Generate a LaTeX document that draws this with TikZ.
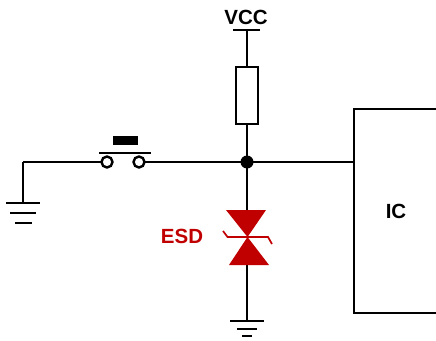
\documentclass[tikz,border=0pt]{standalone}
\usepackage{fontspec}
\setmainfont{Liberation Sans}
\usepackage{xcolor}
\definecolor{esdred}{HTML}{C00000}
\usetikzlibrary{calc,shapes.geometric}
\begin{document}
\begin{tikzpicture}[x=1pt,y=-1pt,
                wire/.style = {line width=2.2pt, black},
                thinbar/.style = {line width=2pt, black},
                label/.style = {font=\bfseries\fontsize{20.5}{20.5}\selectfont, inner sep=0pt},
                box/.style = {draw, line width=2.2pt, rectangle, inner sep=0pt},
                contact/.style = {draw, line width=2.4pt, circle, fill=white, minimum width=11pt, inner sep=0pt, outer sep=0pt},
                tvs/.style = {fill=esdred, draw=none}]
                \useasboundingbox (0,0) rectangle (436,340);
                \node[label] (vcc) at (246,17) {VCC};
                \coordinate (vcctop) at (247,30);
                \node[box, minimum width=22pt, minimum height=57pt] (res) at (247,95.5) {};
                \node[circle, fill=black, minimum width=13pt, inner sep=0pt] (junc) at (247,162) {};
                \node[box, minimum width=84pt, minimum height=204pt] (ic) at (396,211) {};
                \node[label] (iclabel) at (396,211) {IC};
                \node[contact] (swl) at (107,162) {};
                \node[contact] (swr) at (139,162) {};
                \node[fill=black, minimum width=25pt, minimum height=9pt, inner sep=0pt] (button) at (125.5,140.5) {};
                \coordinate (corner) at (23,162);
                \coordinate (gndl) at (23,203);
                \coordinate (tvstop) at (247,211);
                \coordinate (tvsmid) at (247.5,237);
                \coordinate (tvsbot) at (247,265);
                \coordinate (gndb) at (247,321);
                \node[label, text=esdred] (esd) at (182,236) {ESD};
                % supply and pull-up
                \draw[wire] (233,30) -- (260,30);
                \draw[wire] (vcctop) -- (res.north);
                \draw[wire] (res.south) -- (junc.center);
                % switch branch
                \draw[wire] (corner) -- (swl);
                \draw[wire] (swr) -- (junc.center);
                \draw[wire] (99,153) -- (151,153);
                \draw[wire] (corner) -- (gndl);
                % right branch
                \draw[wire] (junc.center) -- (ic.west |- junc);
                % protection diode
                \draw[wire] (junc.center) -- (tvstop);
                \draw[wire] (tvsbot) -- (gndb);
                \fill[tvs] (226,210) -- (266,210) -- (tvsmid) -- cycle;
                \fill[tvs] (229,265) -- (269,265) -- (tvsmid) -- cycle;
                \draw[esdred, line width=1.7pt] (223,231) -- (227.5,237) -- (268,237) -- (272,244);
                % grounds
                \draw[wire] (6,203) -- (40,203);
                \draw[thinbar] (10,213) -- (36,213);
                \draw[thinbar] (15,223) -- (32,223);
                \draw[wire] (230,321) -- (264,321);
                \draw[thinbar] (237,328.5) -- (257,328.5);
                \draw[thinbar] (242,336) -- (252,336);
            \end{tikzpicture}
\end{document}
